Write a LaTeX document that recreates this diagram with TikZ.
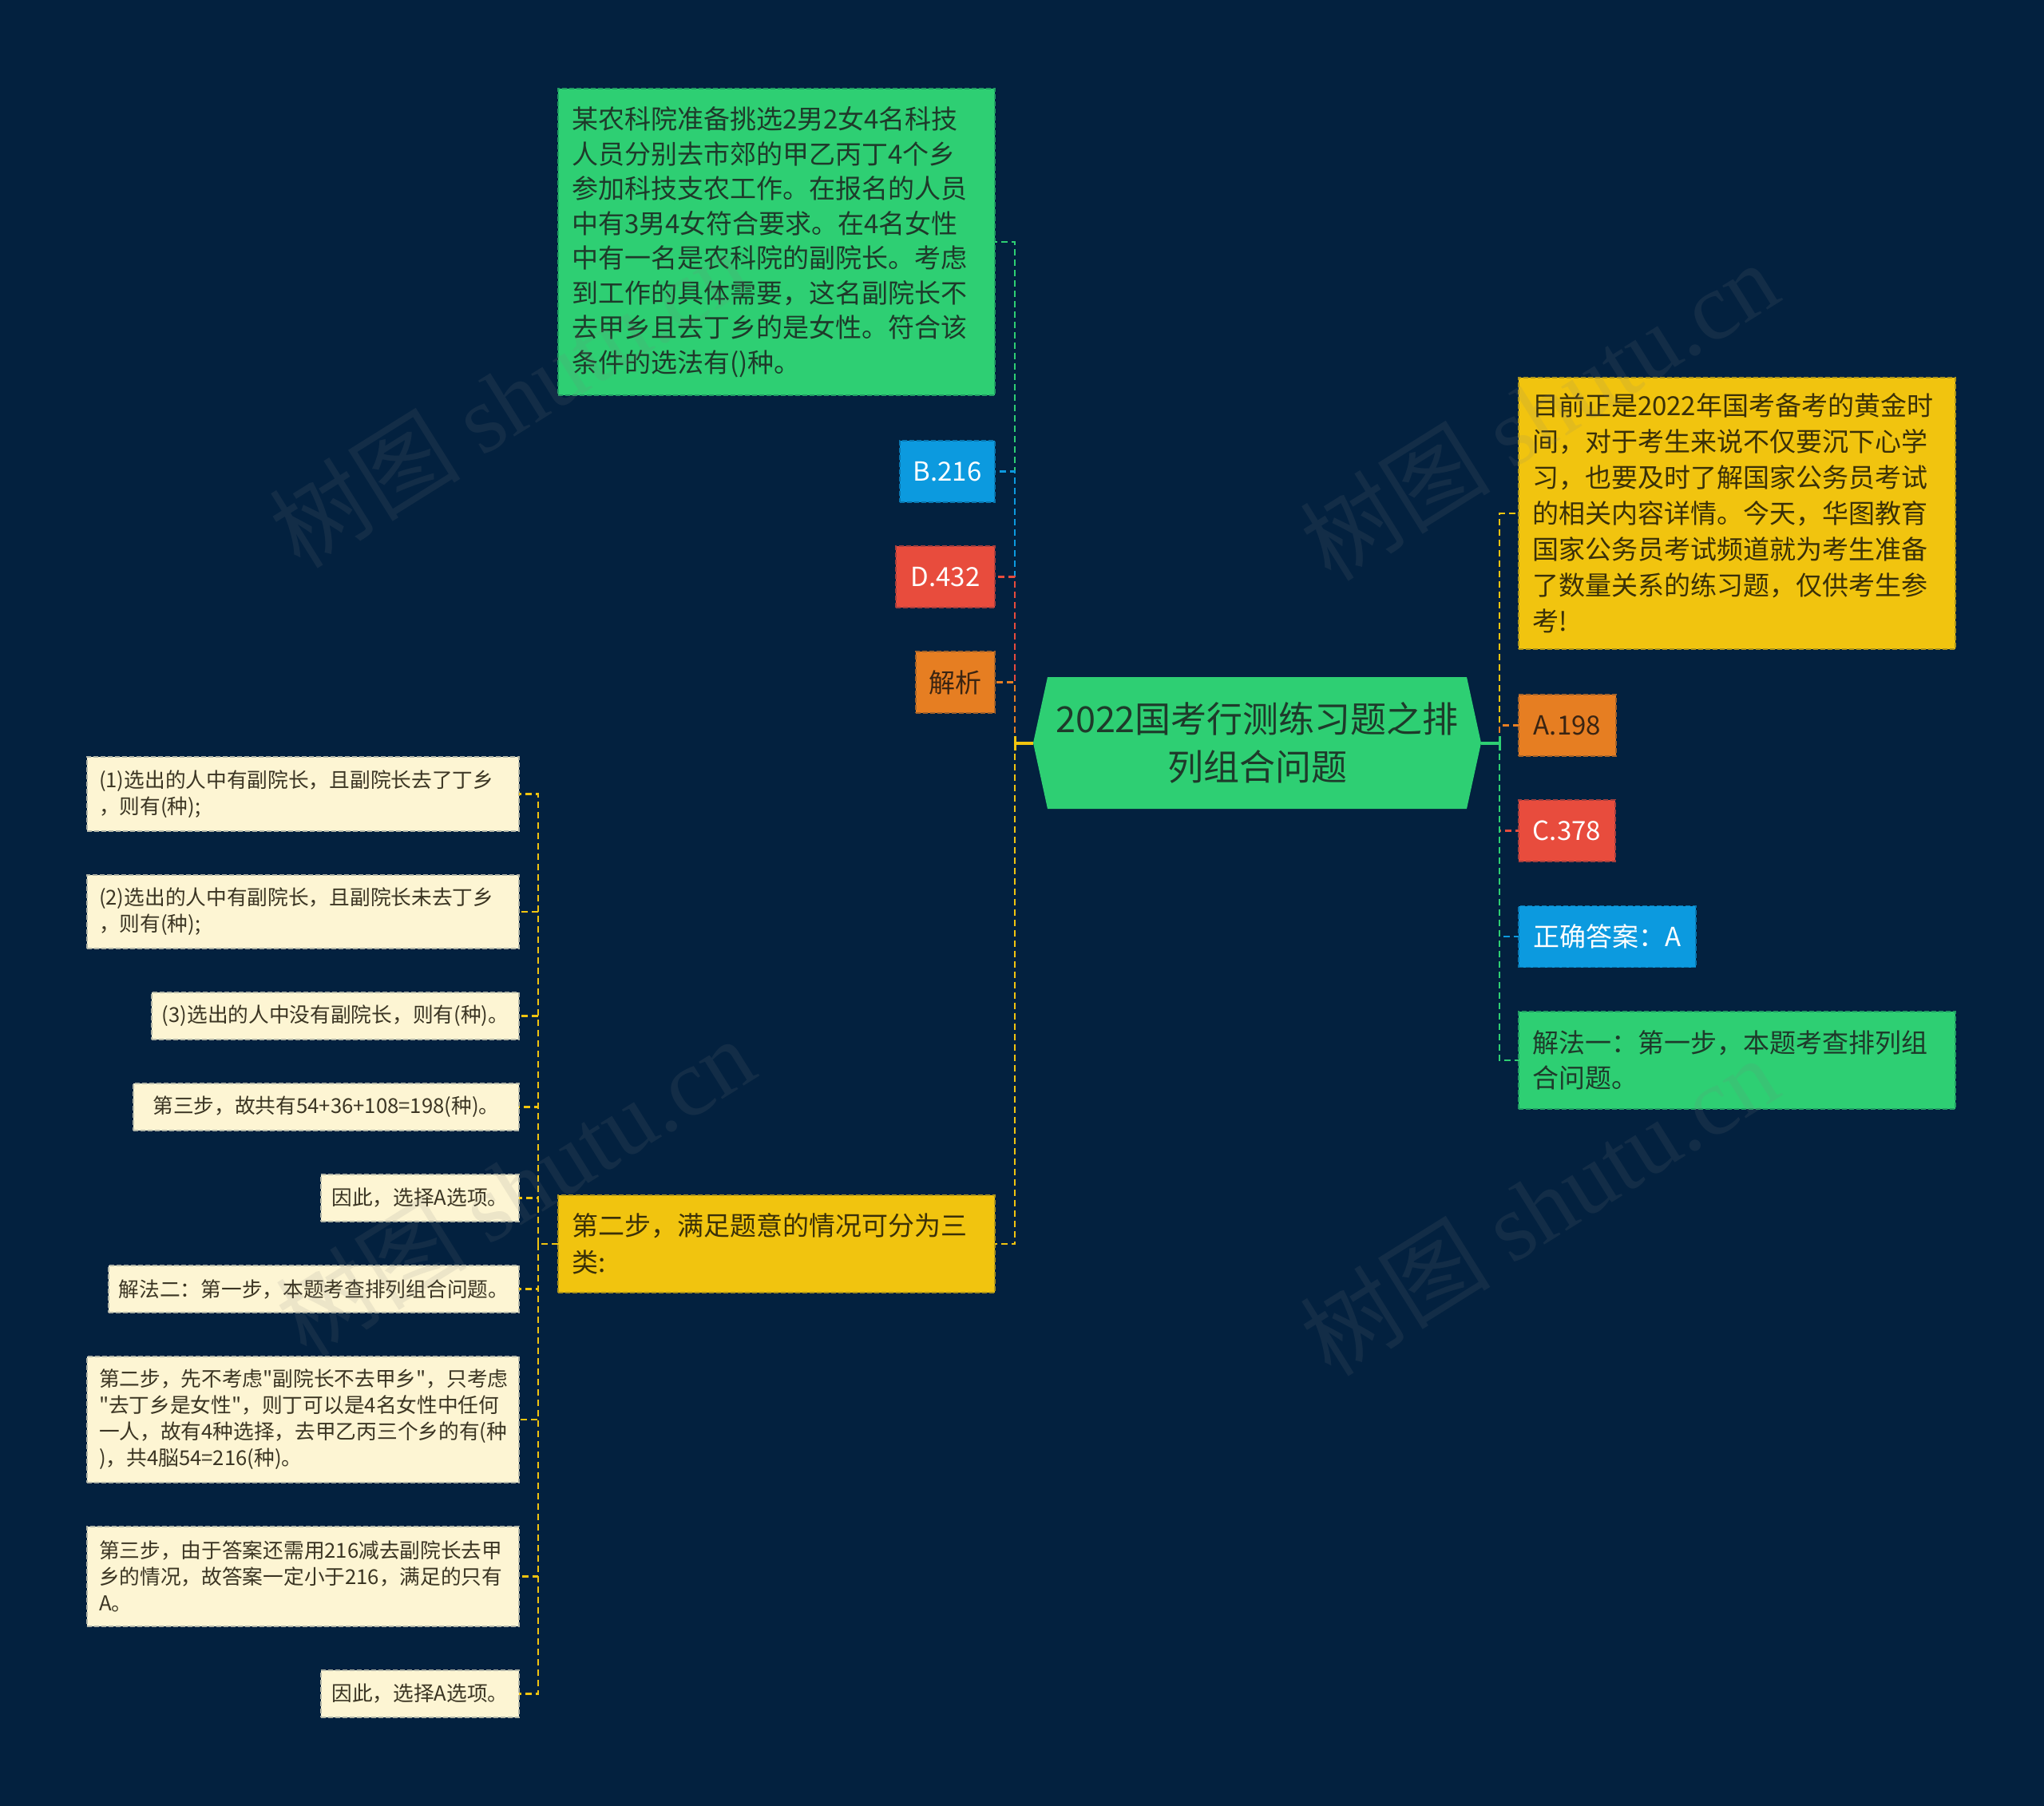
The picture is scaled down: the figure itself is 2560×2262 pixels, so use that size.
\documentclass[tikz,border=0pt]{standalone}
\usepackage{fontspec}
\newfontfamily\cjkfont{Noto Sans CJK SC}
\newfontfamily\wmlat{Liberation Serif}
\usetikzlibrary{calc}

\definecolor{bg}{HTML}{03213F}
\definecolor{cgreen}{HTML}{2ECF73}
\definecolor{cblue}{HTML}{0C9ADF}
\definecolor{cred}{HTML}{E84C3D}
\definecolor{corange}{HTML}{E67E22}
\definecolor{cyellow}{HTML}{F1C40F}
\definecolor{ccream}{HTML}{FDF5D3}
\definecolor{tgreen}{HTML}{1E3A2A}
\definecolor{tyellow}{HTML}{3A3008}
\definecolor{tcream}{HTML}{3B3523}
\definecolor{torange}{HTML}{3A2412}

\tikzset{
  box/.style={rectangle, line width=1.8pt, dash pattern=on 6pt off 3pt, inner ysep=0pt, outer sep=0pt},
  bigfont/.style={font=\cjkfont\fontsize{33pt}{43.5pt}\selectfont},
  bigbox/.style={box, bigfont, align=left, anchor=north west, inner xsep=17pt, text width=513pt},
  smallbox/.style={box, bigfont, align=center, inner xsep=0pt, minimum height=77pt},
  creambox/.style={box, fill=ccream, draw=ccream!70!bg, text=tcream, font=\cjkfont\fontsize{25.7pt}{33pt}\selectfont, anchor=north east},
  creammulti/.style={creambox, align=left, inner xsep=15pt, text width=511pt},
  creamone/.style={creambox, align=center, inner xsep=0pt, minimum height=59pt},
  greenfill/.style={fill=cgreen, draw=cgreen!70!bg, text=tgreen},
  yellowfill/.style={fill=cyellow, draw=cyellow!70!bg, text=tyellow},
  bluefill/.style={fill=cblue, draw=cblue!70!bg, text=white},
  redfill/.style={fill=cred, draw=cred!70!bg, text=white},
  orangefill/.style={fill=corange, draw=corange!70!bg, text=torange},
  conn/.style={line width=2.5pt, dash pattern=on 8pt off 5pt},
  hubline/.style={line width=4pt},
  wm/.style={text=gray, text opacity=0.13, rotate=32, font=\cjkfont\fontsize{120pt}{120pt}\selectfont},
}

\begin{document}
\cjkfont
\begin{tikzpicture}[x=1pt, y=-1pt]
\useasboundingbox (0,0) rectangle (2560,2262);
\fill[bg] (0,0) rectangle (2560,2262);

% central topic
\fill[cgreen] (1312,848) -- (1837,848) -- (1855,930.5) -- (1837,1013) -- (1312,1013) -- (1294,930.5) -- cycle;
\node[align=center, text=tgreen, minimum width=561pt, minimum height=165pt, inner sep=0pt, outer sep=0pt,
      font=\cjkfont\fontsize{45pt}{60pt}\selectfont] (root) at (1574.5,930.5) {2022国考行测练习题之排\\列组合问题};

\coordinate (hubL) at (1271,930.5);
\coordinate (hubR) at (1878,930.5);
\coordinate (hub2) at (674,1558);

% left branch nodes
\node[bigbox, greenfill, minimum height=384pt] (q) at (699,111) {某农科院准备挑选2男2女4名科技\\人员分别去市郊的甲乙丙丁4个乡\\参加科技支农工作。在报名的人员\\中有3男4女符合要求。在4名女性\\中有一名是农科院的副院长。考虑\\到工作的具体需要，这名副院长不\\去甲乡且去丁乡的是女性。符合该\\条件的选法有()种。};
\node[smallbox, bluefill, anchor=east, minimum width=119pt] (b216) at (1246,590.5) {B.216};
\node[smallbox, redfill, anchor=east, minimum width=124pt] (d432) at (1246,722.5) {D.432};
\node[smallbox, orangefill, anchor=east, minimum width=99pt] (jx) at (1246,854.5) {解析};
\node[bigbox, yellowfill, minimum height=122pt, font=\cjkfont\fontsize{33pt}{46pt}\selectfont] (s2) at (699,1497) {第二步，满足题意的情况可分为三\\类:};

% right branch nodes
\node[bigbox, yellowfill, minimum height=340pt, font=\cjkfont\fontsize{33pt}{45pt}\selectfont] (intro) at (1902,473) {目前正是2022年国考备考的黄金时\\间，对于考生来说不仅要沉下心学\\习，也要及时了解国家公务员考试\\的相关内容详情。今天，华图教育\\国家公务员考试频道就为考生准备\\了数量关系的练习题，仅供考生参\\考!};
\node[smallbox, orangefill, anchor=west, minimum width=122pt] (a198) at (1902,908.5) {A.198};
\node[smallbox, redfill, anchor=west, minimum width=121pt] (c378) at (1902,1040.5) {C.378};
\node[smallbox, bluefill, anchor=west, minimum width=222pt] (ans) at (1902,1173) {正确答案：A};
\node[bigbox, greenfill, minimum height=122pt, font=\cjkfont\fontsize{33pt}{44pt}\selectfont] (sol1) at (1902,1267) {解法一：第一步，本题考查排列组\\合问题。};

% sub items of s2
\node[creammulti, minimum height=93pt] (c1) at (650,948) {(1)选出的人中有副院长，且副院长去了丁乡\\，则有(种);};
\node[creammulti, minimum height=92pt] (c2) at (650,1096) {(2)选出的人中有副院长，且副院长未去丁乡\\，则有(种);};
\node[creamone, minimum width=460pt] (c3) at (650,1243) {(3)选出的人中没有副院长，则有(种)。};
\node[creamone, minimum width=483pt] (c4) at (650,1357) {第三步，故共有54+36+108=198(种)。};
\node[creamone, minimum width=248pt] (c5) at (650,1471) {因此，选择A选项。};
\node[creamone, minimum width=514pt] (c6) at (650,1585) {解法二：第一步，本题考查排列组合问题。};
\node[creammulti, minimum height=158pt] (c7) at (650,1699) {第二步，先不考虑"副院长不去甲乡"，只考虑\\"去丁乡是女性"，则丁可以是4名女性中任何\\一人，故有4种选择，去甲乙丙三个乡的有(种\\)，共4脳54=216(种)。};
\node[creammulti, minimum height=125pt] (c8) at (650,1912) {第三步，由于答案还需用216减去副院长去甲\\乡的情况，故答案一定小于216，满足的只有\\A。};
\node[creamone, minimum width=248pt] (c9) at (650,2092) {因此，选择A选项。};

% connectors: left
\draw[conn, cgreen] (hubL) |- (q.east);
\draw[conn, cblue] (hubL) |- (b216.east);
\draw[conn, cred] (hubL) |- (d432.east);
\draw[conn, corange] (hubL) |- (jx.east);
\draw[conn, cyellow] (hubL) |- (s2.east);
\draw[hubline, cyellow] (root.west) -- (hubL);
\draw[line width=3pt, cyellow] ($(hubL)+(0,-9)$) -- ($(hubL)+(0,9)$);

% connectors: right
\draw[conn, cyellow] (hubR) |- (intro.west);
\draw[conn, corange] (hubR) |- (a198.west);
\draw[conn, cred] (hubR) |- (c378.west);
\draw[conn, cblue] (hubR) |- (ans.west);
\draw[conn, cgreen] (hubR) |- (sol1.west);
\draw[hubline, cgreen] (root.east) -- (hubR);
\draw[line width=3pt, cgreen] ($(hubR)+(0,-9)$) -- ($(hubR)+(0,9)$);

% connectors: sub items
\draw[conn, cyellow] (s2.west) -- (hub2);
\foreach \n in {c1,c2,c3,c4,c5,c6,c7,c8,c9}
  \draw[conn, cyellow] (hub2) |- (\n.east);

% watermarks
\node[wm] (wm1) at (637,498) {树图 {\wmlat shutu.cn}};
\node[wm] (wm2) at (1927,514) {树图 {\wmlat shutu.cn}};
\node[wm] (wm3) at (645,1486) {树图 {\wmlat shutu.cn}};
\node[wm] (wm4) at (1927,1510) {树图 {\wmlat shutu.cn}};
\end{tikzpicture}
\end{document}
